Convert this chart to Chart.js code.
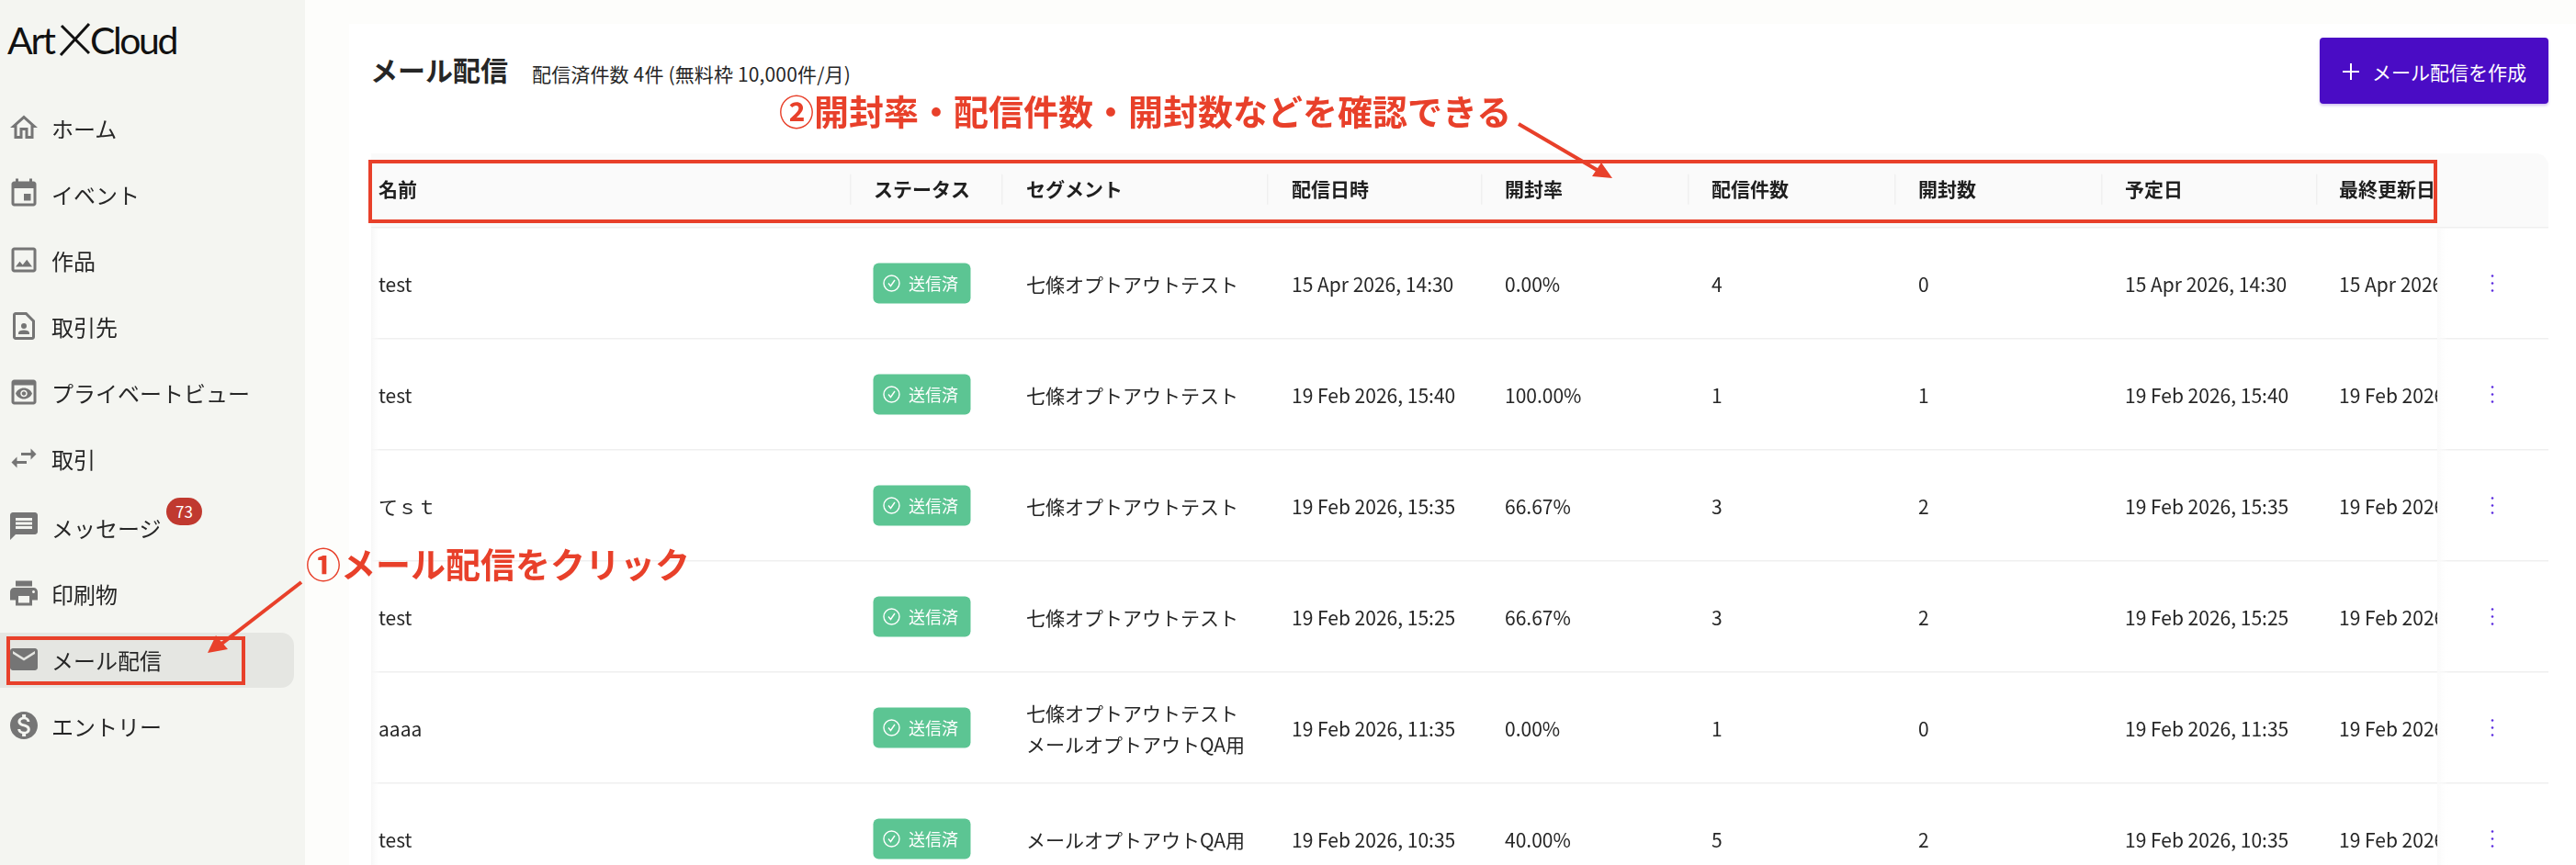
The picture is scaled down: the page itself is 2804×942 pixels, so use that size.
<!DOCTYPE html>
<html lang="ja">
<head>
<meta charset="utf-8">
<title>メール配信</title>
<script src="https://cdn.jsdelivr.net/npm/chart.js@4"></script>
<style>
html, body { margin: 0; padding: 0; width: 2804px; height: 942px; overflow: hidden; background: #fdfdfb; }
body { font-family: "Noto Sans CJK JP", "Noto Sans", sans-serif; color: #262626; position: relative; }
.abs { position: absolute; white-space: nowrap; line-height: 1; transform: translateY(-50%); }
#sidebar { position: absolute; left: 0; top: 0; width: 332px; height: 942px; background: #f4f5f1; }
#active { position: absolute; left: 0; top: 689px; width: 320px; height: 60px; background: #e5e6e2; border-radius: 0 14px 14px 0; }
#card { position: absolute; left: 380px; top: 26px; width: 2424px; height: 916px; background: #fff; }
#table { position: absolute; left: 404px; top: 167px; }
#button { position: absolute; left: 2525px; top: 41px; width: 249px; height: 72px; background: #4a0cc5; border-radius: 4px; box-shadow: 0 2px 3px rgba(74,12,197,.25); }
.redbox { position: absolute; border: 4px solid #e8402a; box-sizing: border-box; }
#marks { position: absolute; left: 0; top: 0; }
.note { color: #e8402a; font-weight: 700; font-size: 38px; }
</style>
</head>
<body>
<div id="sidebar"><div id="active"></div></div>
<div id="card"></div>
<canvas id="table" width="2370" height="775"></canvas>

<div class="abs" style="left:8px;top:43px;font:400 41px Lato;letter-spacing:-2.2px;color:#111">Art</div>
<div class="abs" style="left:98px;top:43px;font:400 41px Lato;letter-spacing:-2.4px;color:#111">Cloud</div>

<div class="abs" style="left:403px;top:75px;font-size:30px;font-weight:700">メール配信</div>
<div class="abs" style="left:579px;top:80px;font-size:21px;letter-spacing:.15px">配信済件数 4件 (無料枠 10,000件/月)</div>

<div id="button"></div>
<div class="abs" style="left:2582px;top:78px;font-size:21px;color:#fff">メール配信を作成</div>

<div class="abs" style="left:181px;top:557px;width:39px;height:30px;border-radius:15px;background:#c0392f;color:#fff;font-size:17px;line-height:30px;text-align:center">73</div>

<div class="redbox" style="left:401px;top:174px;width:2252px;height:69px"></div>
<div class="redbox" style="left:7px;top:693px;width:260px;height:53px"></div>

<svg id="marks" width="2804" height="942" xmlns="http://www.w3.org/2000/svg">
  <g id="menuIcons" fill="#757575"></g>
  <!-- logo cross and button plus -->
  <path d="M67 28 L97 58 M97 26 L66 60" stroke="#111" stroke-width="3" fill="none"/>
  <path d="M2559 69 V87 M2550 78 H2568" stroke="#fff" stroke-width="2" fill="none"/>
  <!-- arrows -->
  <path d="M328 634 L240 702" stroke="#e8402a" stroke-width="4" fill="none"/>
  <path d="M226 711 L235 692 L248 707 Z" fill="#e8402a"/>
  <path d="M1653 135 L1740 186" stroke="#e8402a" stroke-width="4" fill="none"/>
  <path d="M1755 194 L1733 192 L1743 177 Z" fill="#e8402a"/>
</svg>

<div class="abs note" style="left:333px;top:613px">①メール配信をクリック</div>
<div class="abs note" style="left:848px;top:120px">②開封率・配信件数・開封数などを確認できる</div>

<script>
// Sidebar
const menuLabels = ['ホーム', 'イベント', '作品', '取引先', 'プライベートビュー', '取引', 'メッセージ', '印刷物', 'メール配信', 'エントリー'];
const menuIconPaths = [
    'M12 5.69l5 4.5V18h-2v-6H9v6H7v-7.81l5-4.5M12 3L2 12h3v8h6v-6h2v6h6v-8h3L12 3z',
    'M17 12h-5v5h5v-5zM16 1v2H8V1H6v2H5c-1.11 0-1.99.9-1.99 2L3 19c0 1.1.89 2 2 2h14c1.1 0 2-.9 2-2V5c0-1.1-.9-2-2-2h-1V1h-2zm3 18H5V8h14v11z',
    'M19 5v14H5V5h14m0-2H5c-1.1 0-2 .9-2 2v14c0 1.1.9 2 2 2h14c1.1 0 2-.9 2-2V5c0-1.1-.9-2-2-2zm-4.86 8.86l-3 3.87L9 13.14 6 17h12l-3.86-5.14z',
    'M14 2H6c-1.1 0-2 .9-2 2v16c0 1.1.9 2 2 2h12c1.1 0 2-.9 2-2V8l-6-6zm4 18H6V4h7.17L18 8.83V20zM12 10a2 2 0 1 0 0 4 2 2 0 0 0 0-4zM16 17.43c0-.81-.48-1.53-1.22-1.85-.85-.37-1.79-.58-2.78-.58-.99 0-1.93.21-2.78.58C8.48 15.9 8 16.62 8 17.43V18h8v-.57z',
    'M19 3H5c-1.11 0-2 .9-2 2v14c0 1.1.89 2 2 2h14c1.1 0 2-.9 2-2V5c0-1.1-.89-2-2-2zm0 16H5V7h14v12zm-5.5-6c0 .83-.67 1.5-1.5 1.5s-1.5-.67-1.5-1.5.67-1.5 1.5-1.5 1.5.67 1.5 1.5zM12 9c-2.73 0-5.06 1.66-6 4 .94 2.34 3.27 4 6 4s5.06-1.66 6-4c-.94-2.34-3.27-4-6-4zm0 6.5c-1.38 0-2.5-1.12-2.5-2.5s1.12-2.5 2.5-2.5 2.5 1.12 2.5 2.5-1.12 2.5-2.5 2.5z',
    'M6.99 11L3 15l3.99 4v-3H14v-2H6.99v-3zM21 9l-3.99-4v3H10v2h7.01v3L21 9z',
    'M20 2H4c-1.1 0-1.99.9-1.99 2L2 22l4-4h14c1.1 0 2-.9 2-2V4c0-1.1-.9-2-2-2zm-2 12H6v-2h12v2zm0-3H6V9h12v2zm0-3H6V6h12v2z',
    'M19 8H5c-1.66 0-3 1.34-3 3v6h4v4h12v-4h4v-6c0-1.66-1.34-3-3-3zm-3 11H8v-5h8v5zm3-7c-.55 0-1-.45-1-1s.45-1 1-1 1 .45 1 1-.45 1-1 1zm-1-9H6v4h12V3z',
    'M20 4H4c-1.1 0-1.99.9-1.99 2L2 18c0 1.1.9 2 2 2h16c1.1 0 2-.9 2-2V6c0-1.1-.9-2-2-2zm0 4l-8 5-8-5V6l8 5 8-5v2z',
    'M12 2C6.48 2 2 6.48 2 12s4.48 10 10 10 10-4.48 10-10S17.52 2 12 2zm1.41 16.09V20h-2.67v-1.93c-1.71-.36-3.16-1.46-3.27-3.4h1.96c.1 1.05.82 1.87 2.65 1.87 1.96 0 2.4-.98 2.4-1.59 0-.83-.44-1.61-2.67-2.14-2.48-.6-4.18-1.62-4.18-3.67 0-1.72 1.39-2.84 3.11-3.21V4h2.67v1.95c1.86.45 2.79 1.86 2.85 3.39H14.3c-.05-1.11-.64-1.87-2.22-1.87-1.5 0-2.4.68-2.4 1.64 0 .84.65 1.39 2.67 1.91s4.18 1.39 4.18 3.91c-.01 1.83-1.38 2.83-3.12 3.16z'
];
const menuTextY = [140, 212, 284, 356, 428, 500, 575, 647, 719, 791];
const menuIconY = [139, 211, 283, 355, 427, 499, 573, 646, 718, 790];

const iconGroup = document.getElementById('menuIcons');
menuLabels.forEach((label, i) => {
    const div = document.createElement('div');
    div.className = 'abs';
    div.style.cssText = `left:56px;top:${menuTextY[i]}px;font-size:24px`;
    div.textContent = label;
    document.body.appendChild(div);

    const path = document.createElementNS('http://www.w3.org/2000/svg', 'path');
    path.setAttribute('d', menuIconPaths[i]);
    path.setAttribute('transform', `translate(8 ${menuIconY[i] - 18}) scale(1.5)`);
    iconGroup.appendChild(path);
});

// Table data
const columnHeaders = ['名前', 'ステータス', 'セグメント', '配信日時', '開封率', '配信件数', '開封数', '予定日', '最終更新日'];
const names = ['test', 'test', 'てｓｔ', 'test', 'aaaa', 'test'];
const statuses = ['送信済', '送信済', '送信済', '送信済', '送信済', '送信済'];
const segments = [
    ['七條オプトアウトテスト'],
    ['七條オプトアウトテスト'],
    ['七條オプトアウトテスト'],
    ['七條オプトアウトテスト'],
    ['七條オプトアウトテスト', 'メールオプトアウトQA用'],
    ['メールオプトアウトQA用']
];
const sendDates = ['15 Apr 2026, 14:30', '19 Feb 2026, 15:40', '19 Feb 2026, 15:35', '19 Feb 2026, 15:25', '19 Feb 2026, 11:35', '19 Feb 2026, 10:35'];
const openRates = [0, 100, 66.67, 66.67, 0, 40];
const sentCounts = [4, 1, 3, 3, 1, 5];
const openCounts = [0, 1, 2, 2, 0, 2];
const plannedDates = sendDates;
const updatedDates = sendDates;

// Layout of the table, in page pixels
const tableLeft = 404, tableRight = 2774, stickyLeft = 2653, menuX = 2713;
const columnEdges = [925, 1090, 1379, 1612, 1837, 2062, 2287, 2521];
const headerX = [412, 951, 1117, 1406, 1638, 1863, 2088, 2313, 2546];

const textColumns = [
    { col: 0, values: names },
    { col: 2, values: segments },
    { col: 3, values: sendDates },
    { col: 4, values: openRates.map(v => v.toFixed(2) + '%') },
    { col: 5, values: sentCounts.map(String) },
    { col: 6, values: openCounts.map(String) },
    { col: 7, values: plannedDates },
    { col: 8, values: updatedDates }
];

const rowCenter = i => i + 0.5;
const cellFont = '400 21px "Noto Sans CJK JP"';
const headerFont = '700 21px "Noto Sans CJK JP"';
const headerRow = -0.35;

function buildTextDatasets() {
    return textColumns.map(c => ({
        label: columnHeaders[c.col],
        cellText: c.values,
        data: c.values.map((v, i) => ({ x: headerX[c.col], y: rowCenter(i) })),
        pointRadius: 0
    }));
}

// Badges and the row menu are scatter series too
const badgeDataset = {
    label: columnHeaders[1],
    cellText: statuses,
    isBadge: true,
    data: statuses.map((s, i) => ({ x: headerX[1], y: rowCenter(i) })),
    pointRadius: 0
};
const menuDataset = {
    label: 'menu',
    isMenu: true,
    data: names.map((n, i) => ({ x: menuX, y: rowCenter(i) })),
    pointRadius: 0
};

const tableCells = {
    id: 'tableCells',
    beforeDraw(chart) {
        const { ctx, scales: { x, y } } = chart;
        const top = y.getPixelForValue(y.min), bottom = y.getPixelForValue(0);
        ctx.save();
        ctx.fillStyle = '#fafafa';
        ctx.beginPath();
        ctx.roundRect(x.left, top, x.width, bottom - top, [0, 14, 0, 0]);
        ctx.fill();
        ctx.restore();
    },
    afterDatasetsDraw(chart) {
        const { ctx, scales: { x, y } } = chart;
        const sx = x.getPixelForValue(stickyLeft);
        ctx.save();
        ctx.textBaseline = 'middle';

        // everything left of the sticky column is cut off at its edge
        ctx.save();
        ctx.beginPath();
        ctx.rect(0, 0, sx, chart.height);
        ctx.clip();
        ctx.font = headerFont;
        ctx.fillStyle = '#1f1f1f';
        columnHeaders.forEach((h, j) => {
            ctx.fillText(h, x.getPixelForValue(headerX[j]), y.getPixelForValue(headerRow));
        });
        ctx.fillStyle = '#f0f0f0';
        const headerMid = y.getPixelForValue(headerRow);
        columnEdges.forEach(edge => {
            ctx.fillRect(x.getPixelForValue(edge), headerMid - 16, 1.5, 33);
        });
        chart.data.datasets.forEach((ds, d) => {
            if (!ds.cellText || ds.isBadge) return;
            chart.getDatasetMeta(d).data.forEach((pt, i) => {
                const value = ds.cellText[i];
                ctx.font = cellFont;
                ctx.fillStyle = '#262626';
                const lines = Array.isArray(value) ? value : [value];
                lines.forEach((line, k) => {
                    const offset = (k - (lines.length - 1) / 2) * 34;
                    ctx.fillText(line, pt.x, pt.y + 2 + offset);
                });
            });
        });
        ctx.restore();

        chart.data.datasets.forEach((ds, d) => {
            chart.getDatasetMeta(d).data.forEach((pt, i) => {
                if (ds.isBadge) {
                    const bx = pt.x, by = pt.y - 22;
                    ctx.fillStyle = '#5cc593';
                    ctx.beginPath();
                    ctx.roundRect(bx - 0.5, by, 106, 44, 6);
                    ctx.fill();
                    ctx.strokeStyle = '#fff';
                    ctx.lineWidth = 1.4;
                    ctx.beginPath();
                    ctx.arc(bx + 19.5, pt.y, 8.5, 0, Math.PI * 2);
                    ctx.moveTo(bx + 16, pt.y);
                    ctx.lineTo(bx + 18.5, pt.y + 3);
                    ctx.lineTo(bx + 23, pt.y - 3.5);
                    ctx.stroke();
                    ctx.fillStyle = '#fff';
                    ctx.font = '400 18px "Noto Sans CJK JP"';
                    ctx.fillText(ds.cellText[i], bx + 38, pt.y + 1);
                } else if (ds.isMenu) {
                    ctx.fillStyle = '#5b2be0';
                    [-8, 0, 8].forEach(off => {
                        ctx.beginPath();
                        ctx.arc(pt.x, pt.y + off, 1.3, 0, Math.PI * 2);
                        ctx.fill();
                    });
                }
            });
        });

        // soft shadows beside the sticky columns
        const rowsTop = y.getPixelForValue(0) + 1;
        const right = ctx.createLinearGradient(sx, 0, sx + 12, 0);
        right.addColorStop(0, '#f9f9f9');
        right.addColorStop(1, 'rgba(255,255,255,0)');
        ctx.fillStyle = right;
        ctx.fillRect(sx, rowsTop, 12, chart.height - rowsTop);
        const left = ctx.createLinearGradient(x.left, 0, x.left + 10, 0);
        left.addColorStop(0, '#f6f6f6');
        left.addColorStop(1, 'rgba(255,255,255,0)');
        ctx.fillStyle = left;
        ctx.fillRect(x.left, rowsTop, 10, chart.height - rowsTop);
        ctx.restore();
    }
};

new Chart(document.getElementById('table'), {
    type: 'scatter',
    data: { datasets: [...buildTextDatasets(), badgeDataset, menuDataset] },
    plugins: [tableCells],
    options: {
        responsive: false,
        animation: false,
        devicePixelRatio: 1,
        layout: { padding: 0 },
        plugins: { legend: { display: false }, tooltip: { enabled: false } },
        scales: {
            x: { type: 'linear', min: tableLeft, max: tableRight, display: false },
            y: {
                type: 'linear',
                reverse: true,
                min: -81 / 121,
                max: 694 / 121,
                afterBuildTicks: axis => {
                    axis.ticks = [0, 1, 2, 3, 4, 5].map(value => ({ value }));
                },
                ticks: { display: false },
                border: { display: false },
                grid: { color: '#efefef', lineWidth: 1.5, drawTicks: false }
            }
        }
    }
});
</script>
</body>
</html>
